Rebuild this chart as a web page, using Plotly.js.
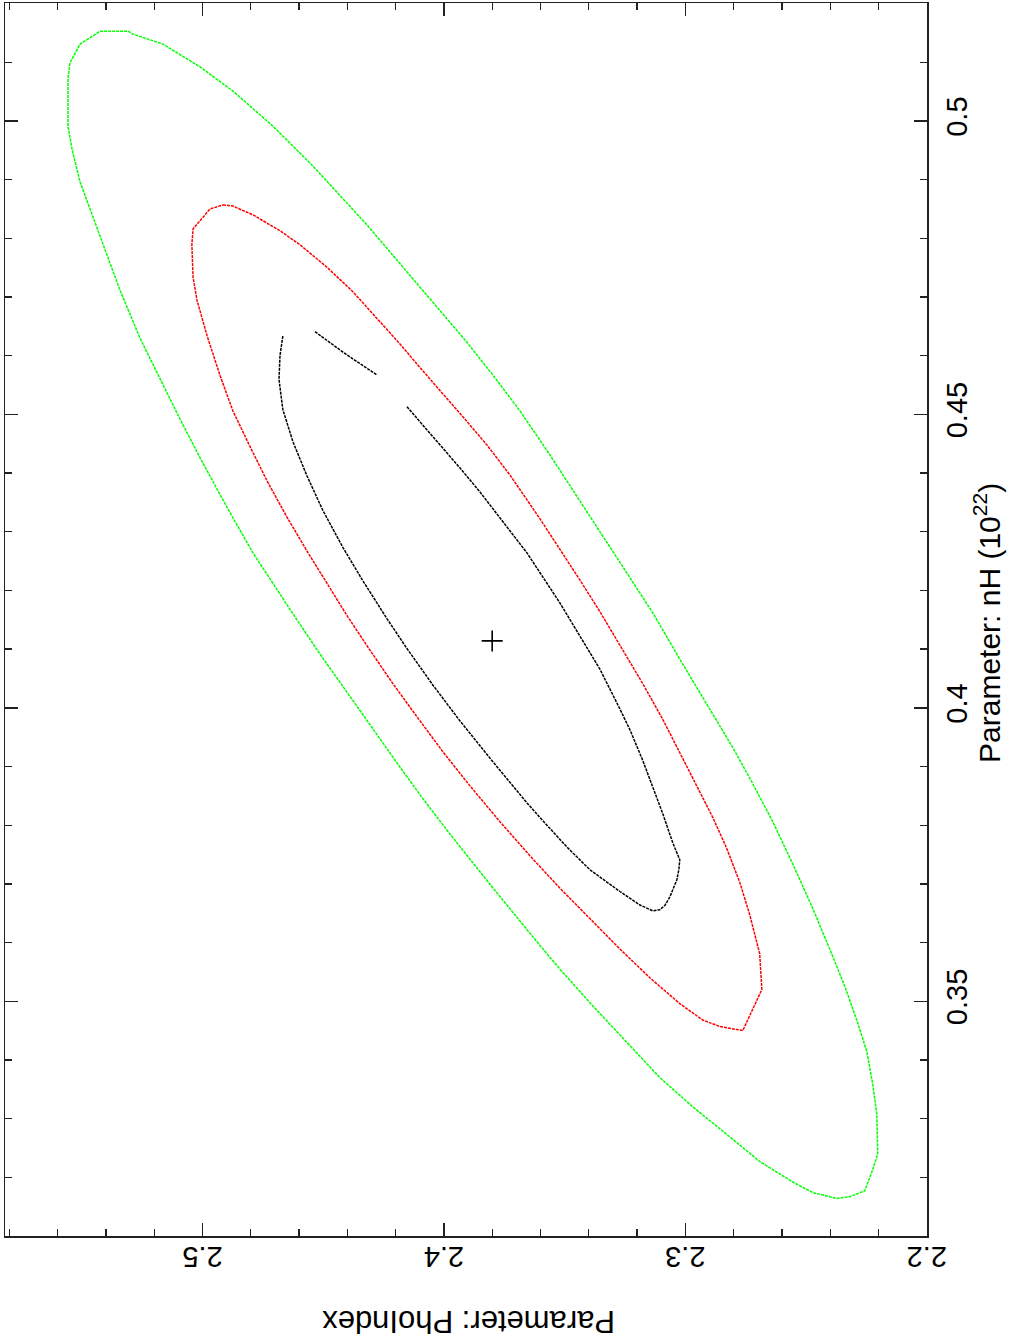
<!DOCTYPE html>
<html>
<head>
<meta charset="utf-8">
<script src="https://cdn.plot.ly/plotly-3.0.1.min.js"></script>
<style>html,body{margin:0;padding:0;background:#fff;}#chart{width:1010px;height:1341px;}</style>
</head>
<body>
<div id="chart"></div>
<script>
// PhoIndex (x) and nH (y) along each confidence contour
const greenPho = [2.5424,2.5383,2.5308,2.5288,2.5164,2.5010,2.4874,2.4708,2.4542,2.4319,2.4087,2.3913,2.3797,2.3685,2.3561,2.3437,2.3354,2.3242,2.3135,2.3023,2.2899,2.2803,2.2721,2.2638,2.2555,2.2472,2.2402,2.2340,2.2290,2.2248,2.2224,2.2207,2.2203,2.2224,2.2257,2.2319,2.2373,2.2472,2.2555,2.2692,2.2828,2.2969,2.3106,2.3242,2.3383,2.3466,2.3520,2.3602,2.3656,2.3797,2.3975,2.4087,2.4182,2.4277,2.4389,2.4514,2.4617,2.4791,2.4899,2.5010,2.5093,2.5176,2.5259,2.5342,2.5412,2.5466,2.5507,2.5540,2.5557,2.5557,2.5557,2.5549,2.5507,2.5424];
const greenNH  = [0.5153,0.5153,0.5153,0.5148,0.5131,0.5092,0.5051,0.4991,0.4923,0.4823,0.4712,0.4627,0.4567,0.4506,0.4431,0.4353,0.4300,0.4230,0.4162,0.4083,0.3998,0.3932,0.3871,0.3806,0.3734,0.3658,0.3589,0.3526,0.3468,0.3414,0.3359,0.3308,0.3240,0.3213,0.3177,0.3167,0.3164,0.3174,0.3192,0.3227,0.3273,0.3320,0.3370,0.3429,0.3492,0.3530,0.3555,0.3595,0.3622,0.3693,0.3785,0.3845,0.3899,0.3954,0.4019,0.4092,0.4155,0.4264,0.4342,0.4426,0.4492,0.4560,0.4630,0.4712,0.4789,0.4848,0.4896,0.4951,0.4991,0.5036,0.5072,0.5099,0.5131,0.5153];

const redPho = [2.4915,2.4874,2.4791,2.4679,2.4596,2.4485,2.4377,2.4277,2.4182,2.4087,2.3988,2.3913,2.3822,2.3727,2.3602,2.3520,2.3437,2.3354,2.3259,2.3176,2.3093,2.3023,2.2952,2.2886,2.2828,2.2774,2.2733,2.2692,2.2683,2.2712,2.2741,2.2762,2.2857,2.2928,2.3023,2.3147,2.3271,2.3395,2.3520,2.3644,2.3768,2.3892,2.4004,2.4112,2.4211,2.4319,2.4398,2.4472,2.4567,2.4650,2.4733,2.4803,2.4874,2.4928,2.4981,2.5023,2.5039,2.5044,2.5039,2.4969,2.4915];
const redNH  = [0.4857,0.4855,0.4840,0.4813,0.4789,0.4751,0.4709,0.4664,0.4620,0.4574,0.4528,0.4492,0.4448,0.4397,0.4322,0.4271,0.4218,0.4164,0.4099,0.4041,0.3980,0.3923,0.3867,0.3813,0.3760,0.3702,0.3647,0.3581,0.3520,0.3494,0.3468,0.3450,0.3457,0.3468,0.3496,0.3540,0.3589,0.3641,0.3693,0.3748,0.3806,0.3867,0.3925,0.3985,0.4041,0.4106,0.4155,0.4204,0.4267,0.4325,0.4387,0.4445,0.4506,0.4567,0.4634,0.4695,0.4734,0.4789,0.4816,0.4850,0.4857];

const blackPho = [2.4534,2.4418,2.4277,null,2.4153,2.4046,2.3934,2.3851,2.3756,2.3656,2.3520,2.3437,2.3354,2.3271,2.3230,2.3176,2.3126,2.3093,2.3052,2.3023,2.3027,2.3035,2.3064,2.3085,2.3106,2.3135,2.3188,2.3271,2.3395,2.3491,2.3602,2.3656,2.3797,2.3934,2.4046,2.4153,2.4236,2.4335,2.4418,2.4501,2.4567,2.4625,2.4667,2.4683,2.4679,2.4667];
const blackNH  = [0.4641,0.4606,0.4567,null,0.4513,0.4463,0.4409,0.4368,0.4317,0.4264,0.4179,0.4123,0.4066,0.3998,0.3963,0.3910,0.3857,0.3819,0.3770,0.3741,0.3724,0.3707,0.3678,0.3663,0.3656,0.3654,0.3664,0.3687,0.3724,0.3763,0.3813,0.3838,0.3908,0.3978,0.4039,0.4101,0.4152,0.4216,0.4273,0.4336,0.4395,0.4453,0.4508,0.4559,0.4600,0.4634];

const bestPho = [2.380];
const bestNH  = [0.4114];

const xTitle = 'Parameter: PhoIndex';
const yTitle = 'Parameter: nH (10<sup>22</sup>)';

const FONT = 'Liberation Sans, Arial, sans-serif';
const dashStyle = '3px,1px';

const traces = [
  {x: greenPho, y: greenNH, mode: 'lines', line: {color: '#00ff00', width: 1.5, dash: dashStyle}, hoverinfo: 'skip'},
  {x: redPho, y: redNH, mode: 'lines', line: {color: '#ff0000', width: 1.5, dash: dashStyle}, hoverinfo: 'skip'},
  {x: blackPho, y: blackNH, mode: 'lines', connectgaps: false, line: {color: '#000000', width: 1.5, dash: dashStyle}, hoverinfo: 'skip'},
  {x: bestPho, y: bestNH, mode: 'markers', marker: {symbol: 'cross-thin', size: 15, color: '#000', line: {width: 1.6, color: '#000'}}, hoverinfo: 'skip'}
];

const layout = {
  width: 1010, height: 1341,
  margin: {l: 5, r: 83, t: 3, b: 105},
  paper_bgcolor: '#fff', plot_bgcolor: '#fff',
  showlegend: false,
  font: {family: FONT, size: 29, color: '#000'},
  xaxis: {
    range: [2.5818, 2.1999],
    dtick: 0.1, tick0: 2.2,
    ticks: 'inside', ticklen: 13, tickwidth: 1.5, tickcolor: '#222',
    minor: {dtick: 0.02, tick0: 2.2, ticks: 'inside', ticklen: 7, tickwidth: 1.3, tickcolor: '#222', showgrid: false},
    showline: true, linecolor: '#222', linewidth: 1.5, mirror: 'allticks',
    showgrid: false, zeroline: false,
    tickangle: 180,
    tickfont: {family: FONT, size: 29, color: '#000'},
    ticklabelstandoff: 4
  },
  yaxis: {
    range: [0.3100, 0.5201],
    side: 'right',
    dtick: 0.05, tick0: 0.3,
    ticks: 'inside', ticklen: 13, tickwidth: 1.5, tickcolor: '#222',
    minor: {dtick: 0.01, tick0: 0.3, ticks: 'inside', ticklen: 7, tickwidth: 1.3, tickcolor: '#222', showgrid: false},
    showline: true, linecolor: '#222', linewidth: 1.5, mirror: 'allticks',
    showgrid: false, zeroline: false,
    tickangle: -90,
    tickfont: {family: FONT, size: 29, color: '#000'},
    ticklabelstandoff: 4
  },
  annotations: [
    {text: yTitle, xref: 'paper', yref: 'paper', x: 1.0651, y: 0.4972, xanchor: 'center', yanchor: 'middle',
     textangle: -90, showarrow: false, font: {family: FONT, size: 30, color: '#000'}},
    {text: xTitle, xref: 'paper', yref: 'paper', x: 0.5033, y: -0.0689, xanchor: 'center', yanchor: 'middle',
     textangle: 180, showarrow: false, font: {family: FONT, size: 31, color: '#000'}}
  ]
};

Plotly.newPlot('chart', traces, layout, {staticPlot: true, displayModeBar: false});
</script>
</body>
</html>
